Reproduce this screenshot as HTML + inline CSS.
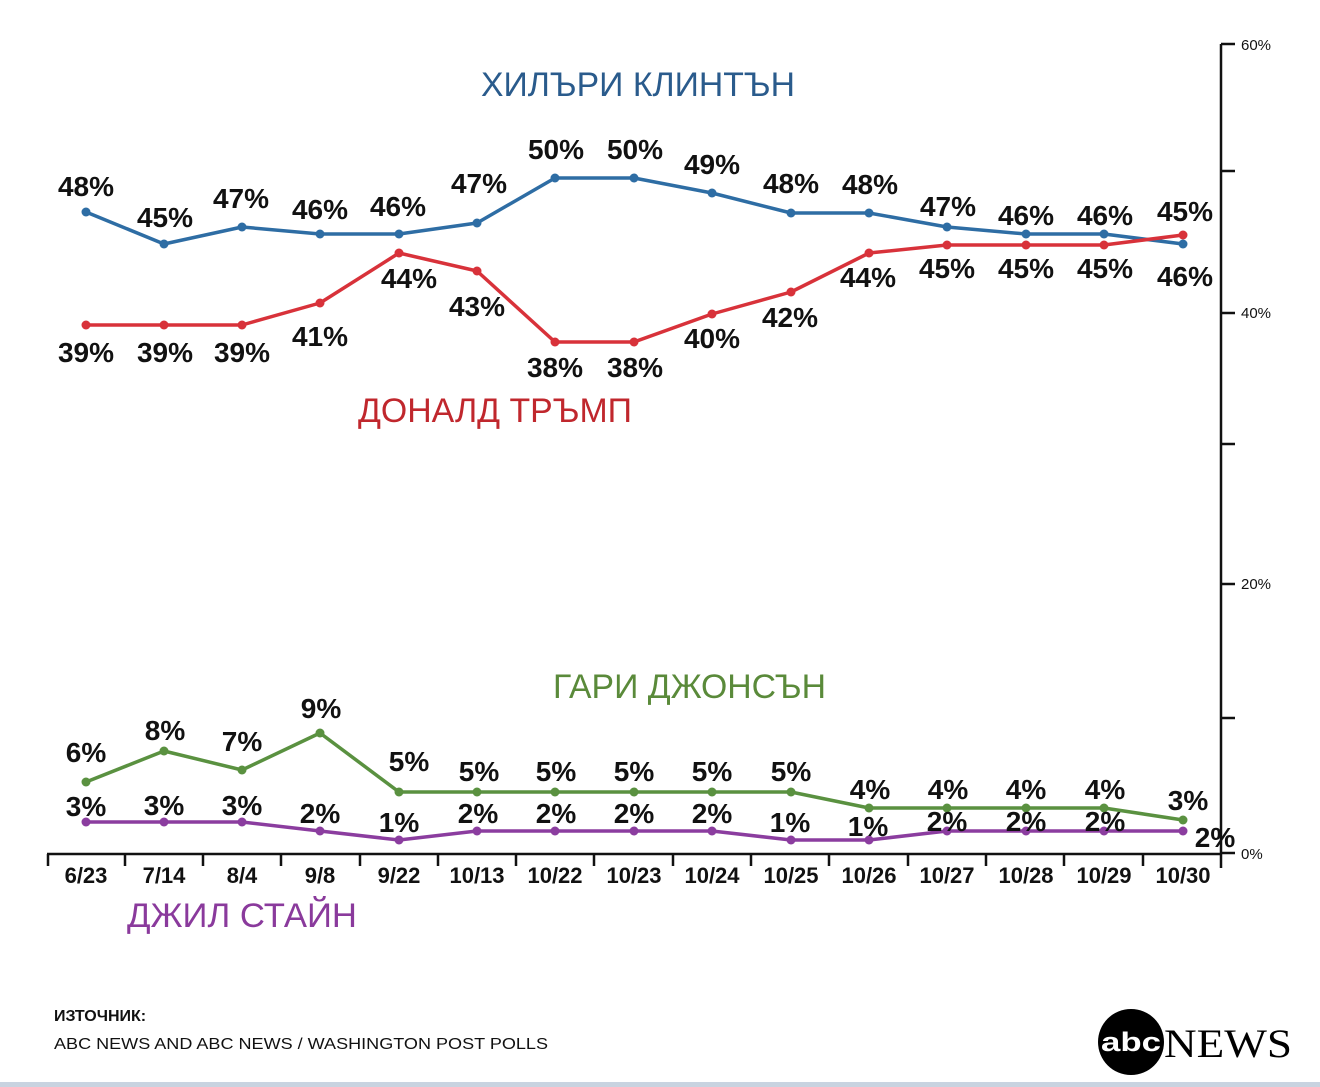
<!DOCTYPE html>
<html><head><meta charset="utf-8"><style>
body{margin:0;background:#fff}
svg{display:block}
.v{font-family:"Liberation Sans",sans-serif;font-weight:bold;font-size:28px;fill:#111;text-anchor:middle}
.d{font-family:"Liberation Sans",sans-serif;font-weight:bold;font-size:22px;fill:#111;text-anchor:middle}
.t{font-family:"Liberation Sans",sans-serif;font-size:34px}
.a{font-family:"Liberation Sans",sans-serif;font-size:15px;fill:#111}
</style></head><body>
<svg width="1320" height="1087" viewBox="0 0 1320 1087">
<rect width="1320" height="1087" fill="#fff"/>
<g stroke="#111" stroke-width="2.5" fill="none">
<path d="M1221 44V868"/>
<path d="M1221 44h14M1221 171h14M1221 313h14M1221 444h14M1221 584h14M1221 718h14M1221 853h14"/>
<path d="M47 854H1221"/>
<path d="M48 854v12M125 854v12M203 854v12M281 854v12M360 854v12M438 854v12M516 854v12M594 854v12M673 854v12M751 854v12M829 854v12M908 854v12M986 854v12M1064 854v12M1143 854v12"/>
</g>
<g class="a">
<text x="1241" y="50">60%</text><text x="1241" y="318">40%</text><text x="1241" y="589">20%</text><text x="1241" y="859">0%</text>
</g>
<g class="d">
<text x="86" y="883">6/23</text><text x="164" y="883">7/14</text><text x="242" y="883">8/4</text><text x="320" y="883">9/8</text><text x="399" y="883">9/22</text><text x="477" y="883">10/13</text><text x="555" y="883">10/22</text><text x="634" y="883">10/23</text><text x="712" y="883">10/24</text><text x="791" y="883">10/25</text><text x="869" y="883">10/26</text><text x="947" y="883">10/27</text><text x="1026" y="883">10/28</text><text x="1104" y="883">10/29</text><text x="1183" y="883">10/30</text>
</g>
<g stroke-width="3.5" fill="none" stroke-linejoin="round">
<polyline stroke="#2e6da4" points="86,212 164,244 242,227 320,234 399,234 477,223 555,178 634,178 712,193 791,213 869,213 947,227 1026,234 1104,234 1183,244"/>
<polyline stroke="#d8323a" points="86,325 164,325 242,325 320,303 399,253 477,271 555,342 634,342 712,314 791,292 869,253 947,245 1026,245 1104,245 1183,235"/>
<polyline stroke="#5a9140" points="86,782 164,751 242,770 320,733 399,792 477,792 555,792 634,792 712,792 791,792 869,808 947,808 1026,808 1104,808 1183,820"/>
<polyline stroke="#8b3d9f" points="86,822 164,822 242,822 320,831 399,840 477,831 555,831 634,831 712,831 791,840 869,840 947,831 1026,831 1104,831 1183,831"/>
</g>
<g fill="#2e6da4"><circle cx="86" cy="212" r="4.5"/><circle cx="164" cy="244" r="4.5"/><circle cx="242" cy="227" r="4.5"/><circle cx="320" cy="234" r="4.5"/><circle cx="399" cy="234" r="4.5"/><circle cx="477" cy="223" r="4.5"/><circle cx="555" cy="178" r="4.5"/><circle cx="634" cy="178" r="4.5"/><circle cx="712" cy="193" r="4.5"/><circle cx="791" cy="213" r="4.5"/><circle cx="869" cy="213" r="4.5"/><circle cx="947" cy="227" r="4.5"/><circle cx="1026" cy="234" r="4.5"/><circle cx="1104" cy="234" r="4.5"/><circle cx="1183" cy="244" r="4.5"/></g>
<g fill="#d8323a"><circle cx="86" cy="325" r="4.5"/><circle cx="164" cy="325" r="4.5"/><circle cx="242" cy="325" r="4.5"/><circle cx="320" cy="303" r="4.5"/><circle cx="399" cy="253" r="4.5"/><circle cx="477" cy="271" r="4.5"/><circle cx="555" cy="342" r="4.5"/><circle cx="634" cy="342" r="4.5"/><circle cx="712" cy="314" r="4.5"/><circle cx="791" cy="292" r="4.5"/><circle cx="869" cy="253" r="4.5"/><circle cx="947" cy="245" r="4.5"/><circle cx="1026" cy="245" r="4.5"/><circle cx="1104" cy="245" r="4.5"/><circle cx="1183" cy="235" r="4.5"/></g>
<g fill="#5a9140"><circle cx="86" cy="782" r="4.5"/><circle cx="164" cy="751" r="4.5"/><circle cx="242" cy="770" r="4.5"/><circle cx="320" cy="733" r="4.5"/><circle cx="399" cy="792" r="4.5"/><circle cx="477" cy="792" r="4.5"/><circle cx="555" cy="792" r="4.5"/><circle cx="634" cy="792" r="4.5"/><circle cx="712" cy="792" r="4.5"/><circle cx="791" cy="792" r="4.5"/><circle cx="869" cy="808" r="4.5"/><circle cx="947" cy="808" r="4.5"/><circle cx="1026" cy="808" r="4.5"/><circle cx="1104" cy="808" r="4.5"/><circle cx="1183" cy="820" r="4.5"/></g>
<g fill="#8b3d9f"><circle cx="86" cy="822" r="4.5"/><circle cx="164" cy="822" r="4.5"/><circle cx="242" cy="822" r="4.5"/><circle cx="320" cy="831" r="4.5"/><circle cx="399" cy="840" r="4.5"/><circle cx="477" cy="831" r="4.5"/><circle cx="555" cy="831" r="4.5"/><circle cx="634" cy="831" r="4.5"/><circle cx="712" cy="831" r="4.5"/><circle cx="791" cy="840" r="4.5"/><circle cx="869" cy="840" r="4.5"/><circle cx="947" cy="831" r="4.5"/><circle cx="1026" cy="831" r="4.5"/><circle cx="1104" cy="831" r="4.5"/><circle cx="1183" cy="831" r="4.5"/></g>
<g class="v">
<text x="86" y="196">48%</text><text x="165" y="227">45%</text><text x="241" y="208">47%</text><text x="320" y="219">46%</text><text x="398" y="216">46%</text><text x="479" y="193">47%</text><text x="556" y="159">50%</text><text x="635" y="159">50%</text><text x="712" y="174">49%</text><text x="791" y="193">48%</text><text x="870" y="194">48%</text><text x="948" y="216">47%</text><text x="1026" y="225">46%</text><text x="1105" y="225">46%</text><text x="1185" y="221">45%</text>
<text x="86" y="362">39%</text><text x="165" y="362">39%</text><text x="242" y="362">39%</text><text x="320" y="346">41%</text><text x="409" y="288">44%</text><text x="477" y="316">43%</text><text x="555" y="377">38%</text><text x="635" y="377">38%</text><text x="712" y="348">40%</text><text x="790" y="327">42%</text><text x="868" y="287">44%</text><text x="947" y="278">45%</text><text x="1026" y="278">45%</text><text x="1105" y="278">45%</text><text x="1185" y="286">46%</text>
<text x="86" y="762">6%</text><text x="165" y="740">8%</text><text x="242" y="751">7%</text><text x="321" y="718">9%</text><text x="409" y="771">5%</text><text x="479" y="781">5%</text><text x="556" y="781">5%</text><text x="634" y="781">5%</text><text x="712" y="781">5%</text><text x="791" y="781">5%</text><text x="870" y="799">4%</text><text x="948" y="799">4%</text><text x="1026" y="799">4%</text><text x="1105" y="799">4%</text><text x="1188" y="810">3%</text>
<text x="86" y="816">3%</text><text x="164" y="815">3%</text><text x="242" y="815">3%</text><text x="320" y="823">2%</text><text x="399" y="832">1%</text><text x="478" y="823">2%</text><text x="556" y="823">2%</text><text x="634" y="823">2%</text><text x="712" y="823">2%</text><text x="790" y="832">1%</text><text x="868" y="836">1%</text><text x="947" y="831">2%</text><text x="1026" y="831">2%</text><text x="1105" y="831">2%</text><text x="1215" y="847">2%</text>
</g>
<text class="t" x="481" y="96" fill="#2a5b8c" textLength="314" lengthAdjust="spacingAndGlyphs">ХИЛЪРИ КЛИНТЪН</text>
<text class="t" x="358" y="422" fill="#c0272d" textLength="274" lengthAdjust="spacingAndGlyphs">ДОНАЛД ТРЪМП</text>
<text class="t" x="553" y="698" fill="#5a8a3a" textLength="273" lengthAdjust="spacingAndGlyphs">ГАРИ ДЖОНСЪН</text>
<text class="t" x="127" y="927" fill="#8a3a9c" textLength="230" lengthAdjust="spacingAndGlyphs">ДЖИЛ СТАЙН</text>
<text x="54" y="1021" font-family="Liberation Sans,sans-serif" font-weight="bold" font-size="16" fill="#111">ИЗТОЧНИК:</text>
<text x="54" y="1049" font-family="Liberation Sans,sans-serif" font-size="16" fill="#111" textLength="494" lengthAdjust="spacingAndGlyphs">ABC NEWS AND ABC NEWS / WASHINGTON POST POLLS</text>
<circle cx="1131" cy="1042" r="33" fill="#000"/>
<text x="1131" y="1051" text-anchor="middle" font-family="Liberation Sans,sans-serif" font-weight="bold" font-size="27" fill="#fff" textLength="60" lengthAdjust="spacingAndGlyphs">abc</text>
<text x="1164" y="1057" font-family="Liberation Serif,serif" font-size="40" fill="#000" textLength="128" lengthAdjust="spacingAndGlyphs">NEWS</text>
<rect x="0" y="1082" width="1320" height="5" fill="#c8d3e0"/>
</svg>
</body></html>
